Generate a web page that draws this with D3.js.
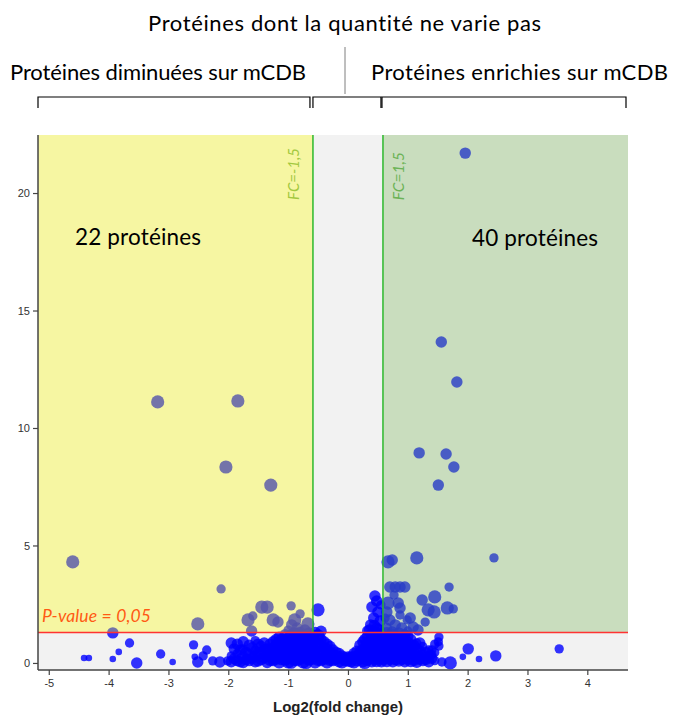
<!DOCTYPE html>
<html><head><meta charset="utf-8">
<script src="https://cdn.jsdelivr.net/npm/d3@7"></script>
<style>body{margin:0;background:#fff}svg{display:block}text{font-variant-ligatures:none;font-feature-settings:"liga" 0}</style>
</head><body><svg id="c" width="674" height="716"></svg>
<script>
// ---- data: [log2(fold change), -log10(p-value), point size] ----
const downRegulated = [
  [-4.60,4.30,4],[-3.18,11.11,4],[-1.84,11.15,4],[-2.04,8.34,4],[-1.29,7.57,4],
  [-2.12,3.15,2],[-2.51,1.66,4],[-1.44,2.38,4],[-1.35,2.38,4],[-0.95,2.43,2],
  [-1.67,1.83,4],[-1.59,2.00,2],[-1.25,1.83,4],[-1.17,1.74,3],[-0.89,1.83,4],
  [-0.94,1.62,3],[-0.67,1.66,4],[-1.61,1.36,3],[-0.85,1.49,3],[-1.00,1.40,2],
  [-0.80,2.09,2],[-0.72,1.40,3]
];
const upRegulated = [
  [1.96,21.70,3],[1.56,13.66,3],[1.82,11.96,3],[1.19,8.94,3],[1.64,8.89,3],
  [1.77,8.34,3],[1.51,7.57,3],[0.67,4.30,4],[0.74,4.38,3],[1.15,4.47,4],
  [2.44,4.47,2],[0.70,3.23,3],[0.79,3.23,3],[0.87,3.23,3],[0.95,3.23,3],
  [1.69,3.23,2],[0.67,2.55,4],[0.84,2.55,3],[0.87,2.34,3],[1.24,2.68,3],
  [1.45,2.81,4],[1.34,2.26,4],[1.44,2.17,4],[1.66,2.34,4],[1.76,2.30,2],
  [1.04,1.91,3],[1.09,1.53,3],[0.70,1.83,3],[0.65,2.17,3],[0.79,1.62,3],
  [0.90,1.49,3],[0.99,1.83,2],[0.64,1.49,3],[1.17,1.40,3],[0.74,1.32,3],
  [0.87,2.04,2],[0.77,2.89,2],[1.29,1.74,2],[0.62,1.91,2],[1.00,1.36,2]
];
const unchanged = [
  // centre, above threshold
  [-0.50,2.26,4],[0.45,2.85,3],[0.48,2.64,3],[0.40,2.38,3],[0.50,2.17,3],[0.43,1.91,3],
  [0.54,1.79,3],[0.38,1.62,3],[0.48,1.49,3],[0.33,1.36,3],[0.55,2.47,2],
  // scattered left
  [-3.93,1.28,3],[-3.65,0.85,2],[-3.83,0.47,1],[-4.41,0.21,1],[-4.33,0.21,1],[-3.93,0.17,1],
  [-3.53,0.00,3],[-3.13,0.38,2],[-2.93,0.04,1],[-2.58,0.77,2],[-2.56,0.26,1],[-2.51,0.04,3],
  [-2.36,0.55,2],[-2.42,0.30,2],[-2.26,0.09,2],[-2.14,0.04,3],[-2.01,0.09,2],
  // dense cluster
  [-1.95,0.05,3],[-1.95,0.30,2],[-1.95,0.85,3],[-1.90,0.18,3],[-1.90,0.60,3],
  [-1.85,0.10,3],[-1.85,0.40,2],[-1.85,0.80,3],[-1.80,0.05,3],[-1.80,0.55,3],
  [-1.75,0.02,3],[-1.75,0.25,3],[-1.75,0.60,2],[-1.75,0.90,3],[-1.70,0.15,3],[-1.70,0.45,3],
  [-1.65,0.10,3],[-1.65,0.35,3],[-1.65,0.75,3],[-1.60,0.20,3],[-1.60,0.65,3],
  [-1.55,0.05,3],[-1.55,0.30,3],[-1.55,0.55,2],[-1.55,0.95,2],[-1.50,0.08,3],[-1.50,0.45,3],[-1.50,0.80,3],
  [-1.45,0.15,3],[-1.45,0.40,3],[-1.45,0.70,3],[-1.40,0.22,3],[-1.40,0.55,3],[-1.40,0.85,3],
  [-1.35,0.02,3],[-1.35,0.30,3],[-1.35,0.60,3],[-1.30,0.15,4],[-1.30,0.48,3],[-1.30,0.80,3],
  [-1.25,0.10,3],[-1.25,0.35,3],[-1.25,0.65,3],[-1.25,0.90,3],[-1.20,0.20,4],[-1.20,0.50,3],[-1.20,0.75,3],[-1.20,1.00,3],
  [-1.15,0.05,4],[-1.15,0.30,3],[-1.15,0.55,3],[-1.15,0.85,4],[-1.15,1.10,3],
  [-1.10,0.18,4],[-1.10,0.45,4],[-1.10,0.70,3],[-1.10,0.98,4],
  [-1.05,0.12,3],[-1.05,0.40,4],[-1.05,0.70,3],[-1.05,1.00,3],[-1.05,1.20,3],
  [-1.00,0.05,4],[-1.00,0.25,4],[-1.00,0.55,4],[-1.00,0.85,4],
  [-0.95,0.03,4],[-0.95,0.28,3],[-0.95,0.55,4],[-0.95,0.85,3],[-0.95,1.15,4],
  [-0.90,0.15,4],[-0.90,0.45,4],[-0.90,0.75,4],[-0.90,1.05,4],[-0.90,1.28,3],
  [-0.85,0.10,3],[-0.85,0.35,4],[-0.85,0.65,3],[-0.85,0.95,4],[-0.85,1.25,3],
  [-0.80,0.20,4],[-0.80,0.50,4],[-0.80,0.80,4],[-0.80,1.10,4],[-0.80,1.26,4],
  [-0.75,0.05,4],[-0.75,0.30,3],[-0.75,0.60,4],[-0.75,0.90,3],[-0.75,1.20,3],
  [-0.70,0.02,4],[-0.70,0.25,4],[-0.70,0.55,4],[-0.70,0.85,4],[-0.70,1.10,4],
  [-0.65,0.12,3],[-0.65,0.40,4],[-0.65,0.70,3],[-0.65,1.00,4],[-0.65,1.28,3],
  [-0.60,0.20,4],[-0.60,0.50,4],[-0.60,0.80,4],[-0.60,1.15,4],
  [-0.55,0.05,4],[-0.55,0.30,3],[-0.55,0.60,4],[-0.55,0.95,3],[-0.55,1.30,3],
  [-0.50,0.15,4],[-0.50,0.45,4],[-0.50,0.80,4],[-0.50,1.15,4],
  [-0.45,0.10,3],[-0.45,0.35,4],[-0.45,0.70,3],[-0.45,1.00,3],[-0.45,1.35,3],
  [-0.40,0.20,4],[-0.40,0.50,4],[-0.40,0.90,3],
  [-0.35,0.05,4],[-0.35,0.30,3],[-0.35,0.60,3],[-0.35,0.80,3],
  [-0.30,0.15,4],[-0.30,0.45,3],[-0.30,0.70,3],
  [-0.25,0.10,3],[-0.25,0.35,3],[-0.25,0.55,3],[-0.20,0.20,4],[-0.20,0.45,3],
  [-0.15,0.05,3],[-0.15,0.25,3],[-0.15,0.40,3],[-0.10,0.05,4],[-0.10,0.30,3],
  [-0.05,0.10,3],[-0.05,0.22,3],[0.00,0.12,4],[0.00,0.25,3],
  [0.05,0.05,3],[0.05,0.20,3],[0.05,0.30,2],[0.10,0.05,4],[0.10,0.25,3],[0.10,0.40,3],
  [0.15,0.10,3],[0.15,0.30,3],[0.15,0.50,3],[0.20,0.20,4],[0.20,0.45,3],[0.20,0.75,3],
  [0.25,0.05,3],[0.25,0.30,3],[0.25,0.60,3],[0.25,0.90,3],[0.28,0.02,4],[0.28,0.50,4],[0.28,1.00,3],
  [0.32,0.15,4],[0.32,0.45,3],[0.32,0.80,3],[0.32,1.10,3],
  [0.36,0.25,4],[0.36,0.55,4],[0.36,0.90,4],[0.36,1.40,3],
  [0.40,0.05,3],[0.40,0.35,4],[0.40,0.70,3],[0.40,1.00,3],[0.40,1.25,3],
  [0.44,0.20,4],[0.44,0.55,4],[0.44,0.90,4],[0.44,1.15,4],[0.44,1.60,3],
  [0.48,0.10,4],[0.48,0.40,3],[0.48,0.75,4],[0.48,1.05,3],[0.48,1.30,3],
  [0.52,0.20,4],[0.52,0.45,4],[0.52,0.80,4],[0.52,1.10,4],[0.52,1.40,3],
  [0.56,0.05,3],[0.56,0.30,4],[0.56,0.60,3],[0.56,0.95,4],[0.56,1.20,3],
  [0.60,0.20,4],[0.60,0.50,4],[0.60,0.85,4],[0.60,1.10,4],
  [0.65,0.10,4],[0.65,0.40,3],[0.65,0.70,4],[0.65,1.00,3],[0.65,1.25,4],
  [0.70,0.20,4],[0.70,0.55,4],[0.70,0.85,4],[0.70,1.10,4],
  [0.75,0.05,3],[0.75,0.30,4],[0.75,0.65,3],[0.75,0.95,4],[0.75,1.20,3],
  [0.80,0.18,4],[0.80,0.50,4],[0.80,0.85,4],[0.80,1.10,4],
  [0.85,0.12,4],[0.85,0.42,3],[0.85,0.75,4],[0.85,1.05,3],[0.85,1.28,3],
  [0.90,0.20,4],[0.90,0.50,4],[0.90,0.80,4],[0.90,1.05,4],
  [0.95,0.05,3],[0.95,0.30,4],[0.95,0.60,3],[0.95,0.90,3],[0.95,1.20,3],
  [1.00,0.20,4],[1.00,0.50,4],[1.00,0.85,4],[1.00,1.15,3],
  [1.05,0.10,4],[1.05,0.40,3],[1.05,0.70,3],[1.05,1.00,3],
  [1.10,0.15,4],[1.10,0.50,3],[1.10,0.75,3],
  [1.15,0.03,3],[1.15,0.30,3],[1.15,0.60,3],[1.15,0.85,2],
  [1.20,0.20,4],[1.20,0.50,3],[1.20,0.85,3],
  [1.25,0.10,3],[1.25,0.35,3],[1.25,0.70,2],[1.30,0.15,3],[1.30,0.45,3],
  [1.35,0.05,3],[1.35,0.30,2],[1.35,0.55,2],[1.40,0.20,3],[1.40,0.35,2],
  [1.45,0.10,2],[1.45,0.45,2],[1.45,0.80,2],
  // scattered right
  [1.52,1.10,2],[1.51,0.90,2],[1.52,0.72,2],[2.01,0.60,3],[1.92,0.26,1],[2.19,0.17,1],
  [2.47,0.30,3],[1.71,0.00,4],[1.57,0.04,2],[1.40,0.55,2],[3.53,0.60,2]
];
const xTicks = [-5,-4,-3,-2,-1,0,1,2,3,4];
const yTicks = [0,5,10,15,20];
const xDomain = [-5.18, 4.68];
const yDomain = [-0.3, 22.47];
const fcThreshold = [-0.585, 0.585];   // log2(1/1.5), log2(1.5)
const pThreshold = 1.301;              // -log10(0.05)
const headerLabels = ["Protéines dont la quantité ne varie pas","Protéines diminuées sur mCDB","Protéines enrichies sur mCDB"];
const regionCounts = ["22 protéines","40 protéines"];

// ---- drawing ----
const svg = d3.select("#c");
const L = 38, R = 628, T = 135, B = 670;
const x = d3.scaleLinear().domain(xDomain).range([L, R]);
const y = d3.scaleLinear().domain(yDomain).range([B, T]);
const r = d3.scaleSqrt().domain([0, 4]).range([0, 6.6]);
const font = "Lato, 'Open Sans', sans-serif";

svg.append("rect").attr("x", L).attr("y", T).attr("width", R - L).attr("height", B - T).attr("fill", "#f2f2f2");

const allPts = unchanged.concat(downRegulated, upRegulated);
svg.append("g").selectAll("circle").data(allPts).join("circle")
  .attr("cx", d => x(d[0])).attr("cy", d => y(d[1])).attr("r", d => r(d[2]))
  .attr("fill", "#0000ff").attr("fill-opacity", 0.8);

// coloured zones laid over the points
svg.append("rect").attr("x", L).attr("y", T)
  .attr("width", x(fcThreshold[0]) - L).attr("height", y(pThreshold) - T)
  .attr("fill", "#ffff00").attr("fill-opacity", 0.33);
svg.append("rect").attr("x", x(fcThreshold[1])).attr("y", T)
  .attr("width", R - x(fcThreshold[1])).attr("height", y(pThreshold) - T)
  .attr("fill", "#78b457").attr("fill-opacity", 0.335);

// thresholds
fcThreshold.forEach(v => {
  svg.append("line").attr("x1", x(v)).attr("x2", x(v)).attr("y1", T).attr("y2", y(pThreshold))
    .attr("stroke", "#2db92d").attr("stroke-width", 1.5);
});
svg.append("line").attr("x1", L).attr("x2", R).attr("y1", y(pThreshold)).attr("y2", y(pThreshold))
  .attr("stroke", "#ff3333").attr("stroke-width", 1.5);

// axes
const fmt = d => String(d);
const xAxis = svg.append("g").attr("transform", `translate(0,${B})`)
  .call(d3.axisBottom(x).tickValues(xTicks).tickSize(5).tickPadding(4).tickSizeOuter(0).tickFormat(fmt));
const yAxis = svg.append("g").attr("transform", `translate(${L},0)`)
  .call(d3.axisLeft(y).tickValues(yTicks).tickSize(5).tickPadding(3).tickSizeOuter(0).tickFormat(fmt));
[xAxis, yAxis].forEach(a => {
  a.select(".domain").attr("stroke", "#444").attr("stroke-width", 1.5);
  a.selectAll(".tick line").attr("stroke", "#444").attr("stroke-width", 1.2);
  a.selectAll(".tick text").attr("font-family", "'Liberation Sans', Arial, sans-serif")
    .attr("font-size", 11).attr("fill", "#333");
});
xAxis.select(".domain").attr("d", `M${L},0H${R}`);
yAxis.select(".domain").attr("d", `M0,${T}V${B}`);

svg.append("text").attr("x", 338).attr("y", 712).attr("text-anchor", "middle")
  .attr("font-family", "'Liberation Sans', Arial, sans-serif").attr("font-weight", "bold")
  .attr("font-size", 15).attr("fill", "#222").text("Log2(fold change)");

// in-plot labels
svg.append("text").attr("transform", `translate(${x(fcThreshold[0]) - 14},148) rotate(-90)`)
  .attr("text-anchor", "end").attr("font-family", font).attr("font-style", "italic")
  .attr("font-size", 15).attr("fill", "#a3c83f").text("FC=-1,5");
svg.append("text").attr("transform", `translate(${x(fcThreshold[1]) + 21},152) rotate(-90)`)
  .attr("text-anchor", "end").attr("font-family", font).attr("font-style", "italic")
  .attr("font-size", 15.5).attr("fill", "#6cb356").text("FC=1,5");
svg.append("text").attr("x", 42).attr("y", 622).attr("font-family", font).attr("font-style", "italic")
  .attr("font-size", 17.5).attr("fill", "#ff5a14").attr("textLength", 109).text("P-value = 0,05");
svg.append("text").attr("x", 75).attr("y", 245).attr("font-family", font)
  .attr("font-size", 22.5).attr("fill", "#000").attr("textLength", 126).text(regionCounts[0]);
svg.append("text").attr("x", 472).attr("y", 246).attr("font-family", font)
  .attr("font-size", 22.5).attr("fill", "#000").attr("textLength", 126).text(regionCounts[1]);

// header annotations
svg.append("text").attr("x", 148).attr("y", 31).attr("font-family", font)
  .attr("font-size", 22).attr("fill", "#000").attr("textLength", 393).text(headerLabels[0]);
svg.append("text").attr("x", 10).attr("y", 80).attr("font-family", font)
  .attr("font-size", 22).attr("fill", "#000").attr("textLength", 296).text(headerLabels[1]);
svg.append("text").attr("x", 371).attr("y", 80).attr("font-family", font)
  .attr("font-size", 22).attr("fill", "#000").attr("textLength", 297).text(headerLabels[2]);
svg.append("line").attr("x1", 345).attr("x2", 345).attr("y1", 47).attr("y2", 94)
  .attr("stroke", "#7f7f7f").attr("stroke-width", 1);

const brackets = [[L, x(fcThreshold[0]) - 3], [x(fcThreshold[0]) + 0, x(fcThreshold[1]) - 2], [x(fcThreshold[1]) - 1, R - 2]];
svg.append("g").selectAll("path").data(brackets).join("path")
  .attr("d", d => `M${d[0]},108V97H${d[1]}V108`)
  .attr("fill", "none").attr("stroke", "#000").attr("stroke-width", 1.2);
</script></body></html>
